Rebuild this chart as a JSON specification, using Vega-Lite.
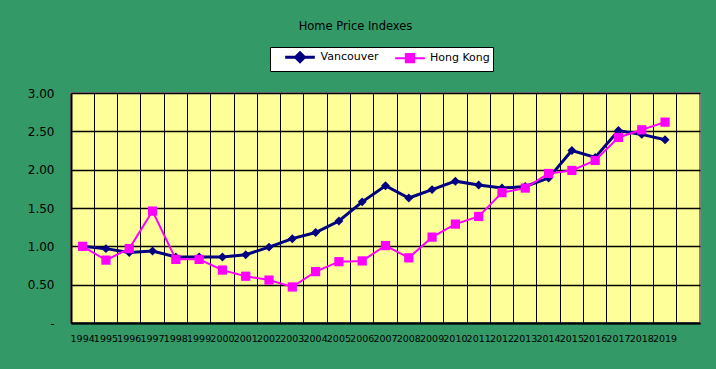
{
  "$schema": "https://vega.github.io/schema/vega-lite/v6.json",
  "width": 629,
  "height": 230,
  "autosize": {"type": "none"},
  "padding": {"left": 71, "top": 93, "right": 16, "bottom": 46},
  "background": "#339966",
  "title": {"text": "Home Price Indexes", "anchor": "middle", "frame": "group", "dx": -30, "offset": 14, "font": "DejaVu Sans", "fontSize": 11.5, "fontWeight": "normal", "color": "black"},
  "config": {
    "font": "DejaVu Sans",
    "view": {"fill": "#FFFF99", "stroke": "#808080", "strokeWidth": 2}
  },
  "data": {"values": [
    {"year": "1994", "series": "Vancouver", "value": 1.00},
    {"year": "1995", "series": "Vancouver", "value": 0.97},
    {"year": "1996", "series": "Vancouver", "value": 0.92},
    {"year": "1997", "series": "Vancouver", "value": 0.94},
    {"year": "1998", "series": "Vancouver", "value": 0.86},
    {"year": "1999", "series": "Vancouver", "value": 0.86},
    {"year": "2000", "series": "Vancouver", "value": 0.86},
    {"year": "2001", "series": "Vancouver", "value": 0.89},
    {"year": "2002", "series": "Vancouver", "value": 0.99},
    {"year": "2003", "series": "Vancouver", "value": 1.10},
    {"year": "2004", "series": "Vancouver", "value": 1.18},
    {"year": "2005", "series": "Vancouver", "value": 1.33},
    {"year": "2006", "series": "Vancouver", "value": 1.58},
    {"year": "2007", "series": "Vancouver", "value": 1.79},
    {"year": "2008", "series": "Vancouver", "value": 1.63},
    {"year": "2009", "series": "Vancouver", "value": 1.74},
    {"year": "2010", "series": "Vancouver", "value": 1.85},
    {"year": "2011", "series": "Vancouver", "value": 1.80},
    {"year": "2012", "series": "Vancouver", "value": 1.76},
    {"year": "2013", "series": "Vancouver", "value": 1.78},
    {"year": "2014", "series": "Vancouver", "value": 1.89},
    {"year": "2015", "series": "Vancouver", "value": 2.25},
    {"year": "2016", "series": "Vancouver", "value": 2.16},
    {"year": "2017", "series": "Vancouver", "value": 2.51},
    {"year": "2018", "series": "Vancouver", "value": 2.46},
    {"year": "2019", "series": "Vancouver", "value": 2.39},
    {"year": "1994", "series": "Hong Kong", "value": 1.00},
    {"year": "1995", "series": "Hong Kong", "value": 0.82},
    {"year": "1996", "series": "Hong Kong", "value": 0.97},
    {"year": "1997", "series": "Hong Kong", "value": 1.46},
    {"year": "1998", "series": "Hong Kong", "value": 0.83},
    {"year": "1999", "series": "Hong Kong", "value": 0.83},
    {"year": "2000", "series": "Hong Kong", "value": 0.69},
    {"year": "2001", "series": "Hong Kong", "value": 0.61},
    {"year": "2002", "series": "Hong Kong", "value": 0.56},
    {"year": "2003", "series": "Hong Kong", "value": 0.47},
    {"year": "2004", "series": "Hong Kong", "value": 0.67},
    {"year": "2005", "series": "Hong Kong", "value": 0.80},
    {"year": "2006", "series": "Hong Kong", "value": 0.81},
    {"year": "2007", "series": "Hong Kong", "value": 1.01},
    {"year": "2008", "series": "Hong Kong", "value": 0.85},
    {"year": "2009", "series": "Hong Kong", "value": 1.12},
    {"year": "2010", "series": "Hong Kong", "value": 1.29},
    {"year": "2011", "series": "Hong Kong", "value": 1.39},
    {"year": "2012", "series": "Hong Kong", "value": 1.70},
    {"year": "2013", "series": "Hong Kong", "value": 1.76},
    {"year": "2014", "series": "Hong Kong", "value": 1.95},
    {"year": "2015", "series": "Hong Kong", "value": 1.99},
    {"year": "2016", "series": "Hong Kong", "value": 2.12},
    {"year": "2017", "series": "Hong Kong", "value": 2.42},
    {"year": "2018", "series": "Hong Kong", "value": 2.52},
    {"year": "2019", "series": "Hong Kong", "value": 2.62}
  ]},
  "encoding": {
    "x": {
      "field": "year", "type": "ordinal", "bandPosition": 0.5,
      "scale": {"type": "band", "domain": ["1994","1995","1996","1997","1998","1999","2000","2001","2002","2003","2004","2005","2006","2007","2008","2009","2010","2011","2012","2013","2014","2015","2016","2017","2018","2019","2020"], "paddingInner": 0, "paddingOuter": 0},
      "axis": {"title": null, "bandPosition": 0, "labelExpr": "datum.value == '2020' ? '' : datum.label", "labelAngle": 0, "labelDx": 3, "labelPadding": 10, "labelFontSize": 9.5, "labelColor": "black", "labelOverlap": false, "labelFlush": false, "ticks": false, "grid": true, "gridColor": "black", "gridOpacity": 1, "gridWidth": 1, "domainColor": "black", "domainWidth": 2}
    },
    "y": {
      "field": "value", "type": "quantitative",
      "scale": {"domain": [0, 3], "nice": false},
      "axis": {"title": null, "values": [0, 0.5, 1, 1.5, 2, 2.5, 3], "labelExpr": "datum.value == 0 ? '-' : format(datum.value, '.2f')", "labelPadding": 17, "labelFontSize": 12, "labelColor": "black", "ticks": false, "grid": true, "gridColor": "black", "gridOpacity": 1, "gridWidth": 1.5, "domainColor": "black", "domainWidth": 2}
    }
  },
  "layer": [
    {
      "mark": {"type": "line"},
      "encoding": {
        "color": {
          "field": "series", "type": "nominal",
          "scale": {"domain": ["Vancouver", "Hong Kong"], "range": ["#000080", "#FF00FF"]},
          "legend": {
            "orient": "none", "legendX": 199, "legendY": -46, "direction": "horizontal", "title": null,
            "fillColor": "white", "strokeColor": "black", "padding": 3,
            "symbolSize": 121, "symbolStrokeWidth": 0, "symbolOffset": 20, "labelOffset": 13.5, "columnPadding": 4.5,
            "labelFont": "DejaVu Sans", "labelFontSize": 11, "labelColor": "black",
            "labelExpr": "datum.value == 'Hong Kong' ? datum.label + '\u00a0\u00a0\u00a0' : datum.label",
            "encode": {"symbols": {"update": {
              "shape": {"signal": "datum.value == 'Vancouver' ? 'M-2.7,0H2.7M0,-0.8L0.8,0L0,0.8L-0.8,0Z' : 'M-2.7,0H2.7M-0.75,-0.75H0.75V0.75H-0.75Z'"},
              "fill": {"signal": "datum.value == 'Vancouver' ? '#000080' : '#FF00FF'"},
              "stroke": {"signal": "datum.value == 'Vancouver' ? '#000080' : '#FF00FF'"},
              "strokeWidth": {"signal": "datum.value == 'Vancouver' ? 3 : 2.5"},
              "opacity": {"value": 1}
            }}}
          }
        },
        "strokeWidth": {"field": "series", "type": "nominal", "scale": {"domain": ["Vancouver", "Hong Kong"], "range": [3, 2]}, "legend": null}
      }
    },
    {
      "transform": [{"filter": "datum.series == 'Vancouver'"}],
      "mark": {"type": "point", "filled": true, "opacity": 1, "shape": "diamond", "size": 80},
      "encoding": {
        "color": {"field": "series", "type": "nominal", "legend": null}
      }
    },
    {
      "transform": [{"filter": "datum.series == 'Hong Kong'"}],
      "mark": {"type": "point", "filled": true, "opacity": 1, "shape": "square", "size": 85},
      "encoding": {
        "color": {"field": "series", "type": "nominal", "legend": null}
      }
    }
  ]
}
